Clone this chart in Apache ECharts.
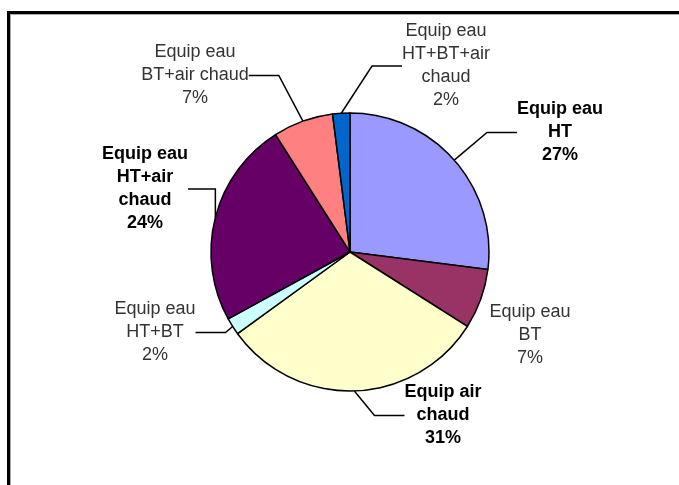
<!DOCTYPE html>
<html>
<head>
<meta charset="utf-8">
<script src="https://cdn.jsdelivr.net/npm/echarts@6/dist/echarts.min.js"></script>
<style>
  html, body { margin: 0; padding: 0; background: #fff; }
  #wrap { position: relative; width: 679px; height: 485px; overflow: hidden; }
  #frame { position: absolute; left: 7px; top: 11px; width: 720px; height: 520px;
    border-left: 3px solid #000; border-top: 3px solid #000; box-shadow: inset 1px 1px 0 #aaa; }
  #chart { position: absolute; left: 0; top: 0; width: 679px; height: 485px; }
</style>
</head>
<body>
<div id="wrap">
  <div id="frame"></div>
  <div id="chart"></div>
</div>
<script>
  // slices, clockwise from 12 o'clock
  var names = ['Equip eau\nHT', 'Equip eau\nBT', 'Equip air\nchaud', 'Equip eau\nHT+BT',
    'Equip eau\nHT+air\nchaud', 'Equip eau\nBT+air chaud', 'Equip eau\nHT+BT+air\nchaud'];
  var values = [27, 7, 31, 2, 24, 7, 2];
  var colors = ['#9999FF', '#993366', '#FFFFCC', '#CCFFFF', '#660066', '#FF8080', '#0066CC'];
  var bold = [true, false, true, false, true, false, false];
  var showLine = [true, false, true, true, true, true, true];

  // label block anchors (center x, top y)
  var labelPos = [[560, 98], [530, 301], [443, 381], [155, 298], [145, 143], [195, 41], [446, 20]];

  var chart = echarts.init(document.getElementById('chart'), null, { renderer: 'canvas' });
  chart.setOption({
    animation: false,
    series: [{
      type: 'pie',
      center: [350, 252],
      radius: 139,
      startAngle: 90,
      clockwise: true,
      avoidLabelOverlap: false,
      itemStyle: { borderColor: '#000', borderWidth: 1.5 },
      label: {
        show: true,
        position: 'outside',
        formatter: '{b}\n{d}%',
        fontFamily: 'Liberation Sans, Arial, sans-serif',
        fontSize: 18,
        lineHeight: 23,
        align: 'center',
        color: '#222'
      },
      labelLine: { show: true, lineStyle: { color: '#000', width: 1.5 } },
      labelLayout: function (p) {
        var pos = labelPos[p.dataIndex];
        return { x: pos[0], y: pos[1], align: 'center', verticalAlign: 'top' };
      },
      emphasis: { disabled: true },
      data: names.map(function (n, i) {
        return {
          name: n,
          value: values[i],
          itemStyle: { color: colors[i] },
          labelLine: { show: showLine[i] },
          label: { fontWeight: bold[i] ? 'bold' : 'normal', color: bold[i] ? '#000' : '#333' }
        };
      })
    }]
  });
</script>
</body>
</html>
